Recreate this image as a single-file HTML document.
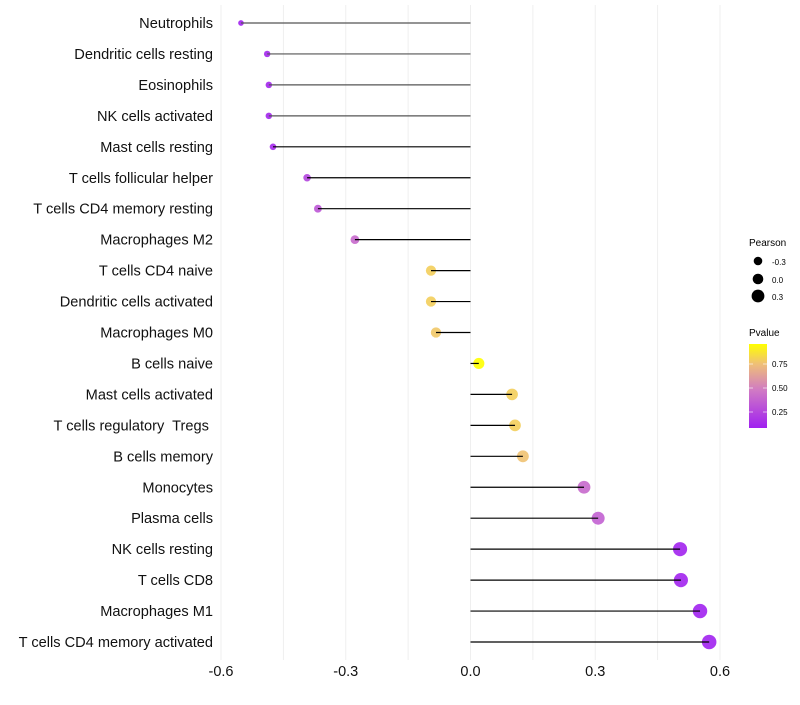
<!DOCTYPE html>
<html><head><meta charset="utf-8"><style>
body{margin:0;background:#fff;font-family:"Liberation Sans",sans-serif}
svg text{font-family:"Liberation Sans",sans-serif;white-space:pre}
</style></head><body>
<svg id="chart" width="800" height="700">
<defs><linearGradient id="pg" x1="0" y1="1" x2="0" y2="0">
<stop offset="0" stop-color="#a020f0"/><stop offset="0.45" stop-color="#d07ac4"/><stop offset="0.76" stop-color="#efbf78"/><stop offset="1" stop-color="#ffff00"/></linearGradient></defs>
<g id="grid"></g><g id="marks"></g><g id="labels"></g>
<g>
<text x="749" y="246" font-size="10">Pearson</text>
<circle cx="758" cy="261" r="4.3" fill="#000"/><text x="772" y="265" font-size="8">-0.3</text>
<circle cx="758" cy="279" r="5.3" fill="#000"/><text x="772" y="283" font-size="8">0.0</text>
<circle cx="758" cy="296" r="6.4" fill="#000"/><text x="772" y="300" font-size="8">0.3</text>
</g>
<g>
<text x="749" y="336" font-size="10">Pvalue</text>
<rect x="749" y="344" width="18" height="84" fill="url(#pg)"/>
<g stroke="#fff" stroke-opacity="0.6"><line x1="749" x2="753" y1="364" y2="364"/><line x1="763" x2="767" y1="364" y2="364"/><line x1="749" x2="753" y1="388" y2="388"/><line x1="763" x2="767" y1="388" y2="388"/><line x1="749" x2="753" y1="412" y2="412"/><line x1="763" x2="767" y1="412" y2="412"/></g>
<text x="772" y="367" font-size="8">0.75</text><text x="772" y="391" font-size="8">0.50</text><text x="772" y="415" font-size="8">0.25</text>
</g>
</svg>
<script>
const categories=["Neutrophils","Dendritic cells resting","Eosinophils","NK cells activated","Mast cells resting","T cells follicular helper","T cells CD4 memory resting","Macrophages M2","T cells CD4 naive","Dendritic cells activated","Macrophages M0","B cells naive","Mast cells activated","T cells regulatory  Tregs ","B cells memory","Monocytes","Plasma cells","NK cells resting","T cells CD8","Macrophages M1","T cells CD4 memory activated"];
const pearson=[-0.552,-0.489,-0.485,-0.485,-0.475,-0.393,-0.367,-0.278,-0.095,-0.095,-0.083,0.020,0.100,0.107,0.126,0.273,0.307,0.504,0.506,0.552,0.574];
const pvalues=[0.09,0.11,0.11,0.11,0.12,0.25,0.33,0.42,0.80,0.80,0.78,0.96,0.80,0.80,0.76,0.42,0.38,0.10,0.10,0.09,0.09];
const xTicks=[-0.6,-0.3,0.0,0.3,0.6];
const xTickLabels=["-0.6","-0.3","0.0","0.3","0.6"];
const NS="http://www.w3.org/2000/svg";
const x=v=>470.5+v*415.8;
const y=i=>23+i*30.95;
const rad=v=>Math.sqrt(Math.max(3,30+40*v));
function lerp(a,b,t){return a.map((c,i)=>Math.round(c+(b[i]-c)*t));}
const stops=[[0.08,[160,32,240]],[0.5,[208,122,196]],[0.75,[239,191,120]],[0.96,[255,255,0]]];
function col(p){if(p<=stops[0][0])return "rgb("+stops[0][1]+")";for(let i=1;i<stops.length;i++){if(p<=stops[i][0]){const t=(p-stops[i-1][0])/(stops[i][0]-stops[i-1][0]);return "rgb("+lerp(stops[i-1][1],stops[i][1],t)+")";}}return "rgb("+stops[3][1]+")";}
function mk(t,a,p){const e=document.createElementNS(NS,t);for(const k in a)e.setAttribute(k,a[k]);p.appendChild(e);return e;}
const grid=document.getElementById("grid"),marks=document.getElementById("marks"),labels=document.getElementById("labels");
for(let v=-0.6;v<=0.601;v+=0.15){const l=mk("line",{x1:x(v),x2:x(v),y1:5,y2:660,stroke:"#efefef","stroke-width":1},grid);

}
xTicks.forEach((v,i)=>{const t=mk("text",{x:x(v),y:676,"font-size":14.5,"text-anchor":"middle",fill:"#111"},labels);t.textContent=xTickLabels[i];

});
categories.forEach((c,i)=>{
const t=mk("text",{x:213,y:y(i)+5,"font-size":14.6,"text-anchor":"end",fill:"#111"},labels);t.textContent=c;


const p=mk("circle",{cx:x(pearson[i]),cy:y(i),r:rad(pearson[i]),fill:col(pvalues[i]),"fill-opacity":0.9},marks);


const s=mk("line",{x1:x(0),x2:x(pearson[i]),y1:y(i),y2:y(i),stroke:i<4?"#555":"#000","stroke-width":1.2},marks);


});
</script>
</body></html>
